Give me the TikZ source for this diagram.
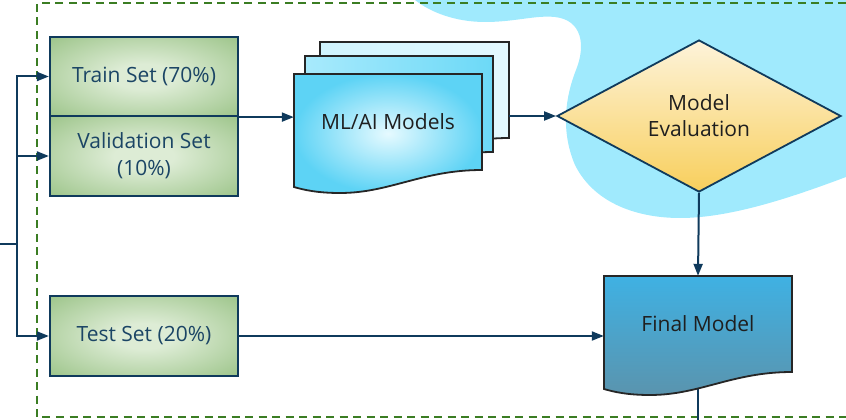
\documentclass[tikz,border=0pt]{standalone}
\usepackage{fontspec}
\setmainfont{Open Sans}
\usetikzlibrary{arrows.meta,shapes.geometric}
\definecolor{navy}{HTML}{0F3A5C}
\definecolor{dgreen}{HTML}{3B7D23}
\definecolor{blob}{HTML}{A0EAFD}
\definecolor{gin}{HTML}{DDECD5}
\definecolor{gout}{HTML}{9CC489}
\definecolor{txtblue}{HTML}{1B4565}
\definecolor{dthreeL}{HTML}{D0F4FE}
\definecolor{dthreeR}{HTML}{E4F9FF}
\definecolor{dtwoL}{HTML}{A8EAFC}
\definecolor{dtwoR}{HTML}{6CD9F7}
\definecolor{doneI}{HTML}{E6FAFF}
\definecolor{doneO}{HTML}{5DD3F5}
\definecolor{diaT}{HTML}{FDF3DA}
\definecolor{diaB}{HTML}{F8CF5C}
\definecolor{finT}{HTML}{3FB1E3}
\definecolor{finB}{HTML}{5A94AE}
\pgfdeclareradialshading{greenrad}{\pgfpoint{0bp}{0bp}}{color(0bp)=(gin); color(8bp)=(gin); color(36bp)=(gout); color(50bp)=(gout)}
\tikzset{
  conn/.style={draw=navy, line width=2pt},
  arr/.style={conn, -{Triangle[length=12pt,width=9pt]}},
  greenbox/.style={draw=navy, line width=2.2pt, shading=greenrad,
    minimum width=188pt, text=txtblue, font=\fontsize{21}{27}\selectfont, align=center, inner sep=0pt},
  docline/.style={draw=black!85, line width=1.8pt},
  docnode/.style={inner sep=0pt, minimum width=188pt, font=\fontsize{21}{27}\selectfont, text=black!88},
  frame/.style={draw=dgreen, line width=2pt, dash pattern=on 8pt off 5.5pt},
}
\begin{document}
\begin{tikzpicture}[x=1pt,y=-1pt]
\useasboundingbox (0,0) rectangle (846,420);
% blob
\fill[blob] (415,0) .. controls (430,12) and (455,22) .. (485,22)
  .. controls (515,22) and (535,15) .. (555,17)
  .. controls (582,20) and (586,45) .. (576,70)
  .. controls (566,95) and (560,130) .. (575,165)
  .. controls (595,205) and (640,218) .. (680,218)
  .. controls (730,218) and (790,198) .. (846,177) -- (846,0) -- cycle;
% frame
\draw[frame] (846,3) -- (37,3) -- (37,417) -- (846,417);

% green boxes
\node[greenbox, minimum height=79pt] (train) at (144,76.5) {Train Set (70\%)};
\node[greenbox, minimum height=80pt] (val) at (144,156) {Validation Set\\(10\%)};
\node[greenbox, minimum height=80pt] (test) at (144,336) {Test Set (20\%)};

% bus
\coordinate (in) at (0,244);
\coordinate (bus) at (17,244);
\draw[conn] (in) -- (bus);
\draw[arr] (bus) |- (train.west);
\draw[arr] (bus) |- (val.west);
\draw[arr] (bus) |- (test.west);

% documents stack
\path[docline, left color=dthreeL, right color=dthreeR]
  (320,42) -- (509,42) -- (509,138) .. controls (449,138) and (417,161) .. (367,161)
  .. controls (345,161) and (331,158) .. (320,155) -- cycle;
\path[docline, left color=dtwoL, right color=dtwoR]
  (305,56) -- (493,56) -- (493,152) .. controls (433,152) and (401,175) .. (351,175)
  .. controls (329,175) and (315,172) .. (305,169) -- cycle;
\path[docline, inner color=doneI, outer color=doneO]
  (294,74) -- (482,74) -- (482,170) .. controls (422,170) and (390,193) .. (340,193)
  .. controls (318,193) and (304,190) .. (294,187) -- cycle;
\node[docnode, minimum width=189pt, minimum height=96pt] (ml3) at (414.5,90) {};
\node[docnode, minimum height=96pt] (ml) at (388,122) {ML/AI Models};

% diamond
\node[diamond, draw=navy, line width=1.8pt, top color=diaT, bottom color=diaB,
  minimum width=284pt, minimum height=152pt, inner sep=0pt, align=center,
  font=\fontsize{21}{26}\selectfont, text=black!88] (eval) at (699,116) {Model\\Evaluation};

% final model
\coordinate (out) at (698,420);
\node[docnode, minimum height=96pt] (final) at (698,324) {};
\draw[conn] (final.south) -- (out);
\path[docline, top color=finT, bottom color=finB]
  (604,276) -- (792,276) -- (792,372) .. controls (732,372) and (700,395) .. (650,395)
  .. controls (628,395) and (614,392) .. (604,389) -- cycle;
\node[docnode, minimum height=96pt] (finaltext) at (698,324) {Final Model};

% connectors
\draw[arr] (train.south east) -- (train.south east -| ml.west);
\draw[arr] (eval.west -| ml3.east) -- (eval.west);
\draw[arr] (eval.south) -- (final.north);
\draw[arr] (test.east) -- (test.east -| final.west);
\end{tikzpicture}
\end{document}
